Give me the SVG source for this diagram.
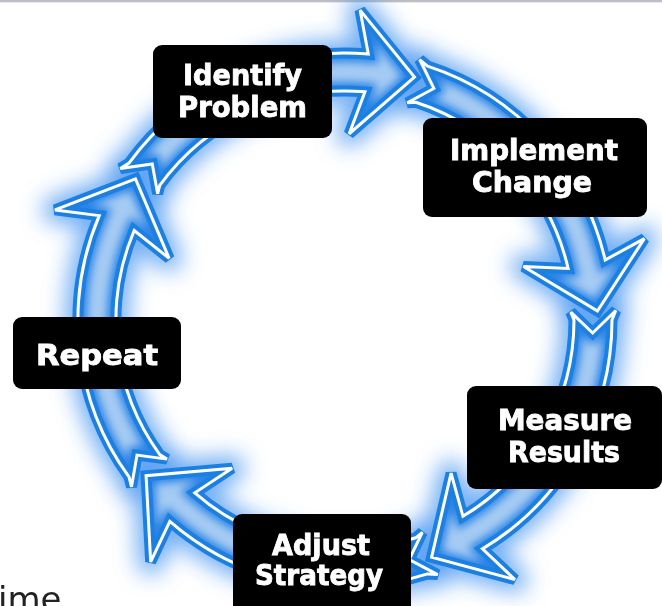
<svg xmlns="http://www.w3.org/2000/svg" width="662" height="606" viewBox="0 0 662 606">
<style>
.glow{fill:#5a9ff0;stroke:#3a8ef0;stroke-width:26;stroke-linejoin:round;opacity:.7}
.fillA{fill:#a6cbf3}
.inner{fill:none;stroke:#2a84e6;stroke-width:18}
.edge{fill:none;stroke:#1c7fe2;stroke-width:11;stroke-linejoin:miter}
.hl{fill:none;stroke:#ffffff;stroke-width:3;stroke-linejoin:miter}
.box{fill:#000000}
.lbl{font-family:"DejaVu Sans",sans-serif;font-weight:700;font-size:29px;fill:#ffffff;stroke:#ffffff;stroke-width:0.9;text-anchor:middle}
.txt{font-family:"DejaVu Sans",sans-serif;font-size:34px;fill:#222222}
</style>
<defs>
<filter id="gblur" x="-40%" y="-40%" width="180%" height="180%"><feGaussianBlur stdDeviation="11"/></filter>
<filter id="iblur" x="-20%" y="-20%" width="140%" height="140%"><feGaussianBlur stdDeviation="4"/></filter>
<path id="arr" d="M83.7,-257.7 L91.3,-250.9 A267,267 0 0 1 262.1,-50.9 L302.0,-70.9 L252.6,-0.2 L180.2,-47.3 L224.8,-43.7 A229,229 0 0 0 78.3,-215.2 L69.8,-214.9 L96.9,-228.3 Z"/>
<clipPath id="clipA"><use href="#arr"/></clipPath>
<g id="arrowBody">
<use href="#arr" class="fillA"/>
<g clip-path="url(#clipA)"><use href="#arr" class="inner" filter="url(#iblur)"/></g>
<use href="#arr" class="edge"/>
<use href="#arr" class="hl"/>
</g>
</defs>
<rect x="0" y="0" width="662" height="2.3" fill="#bdbdc5"/>
<g id="connectors">
<g id="glows" filter="url(#gblur)">
<use href="#arr" class="glow" transform="translate(345 320) rotate(-74)"/>
<use href="#arr" class="glow" transform="translate(345 320) rotate(-2)"/>
<use href="#arr" class="glow" transform="translate(345 320) rotate(70)"/>
<use href="#arr" class="glow" transform="translate(345 320) rotate(142)"/>
<use href="#arr" class="glow" transform="translate(345 320) rotate(214)"/>
</g>
<use id="arrow-identify-implement" href="#arrowBody" transform="translate(345 320) rotate(-74)"/>
<use id="arrow-implement-measure" href="#arrowBody" transform="translate(345 320) rotate(-2)"/>
<use id="arrow-measure-adjust" href="#arrowBody" transform="translate(345 320) rotate(70)"/>
<use id="arrow-adjust-repeat" href="#arrowBody" transform="translate(345 320) rotate(142)"/>
<use id="arrow-repeat-identify" href="#arrowBody" transform="translate(345 320) rotate(214)"/>
</g>
<g id="node-identify">
<rect class="box" x="153" y="45" width="179" height="93" rx="9"/>
<text class="lbl" x="242.5" y="85" textLength="119" lengthAdjust="spacingAndGlyphs">Identify</text>
<text class="lbl" x="242.5" y="117" textLength="129" lengthAdjust="spacingAndGlyphs">Problem</text>
</g>
<g id="node-implement">
<rect class="box" x="423" y="118" width="224" height="99" rx="9"/>
<text class="lbl" x="534" y="160" textLength="168" lengthAdjust="spacingAndGlyphs">Implement</text>
<text class="lbl" x="532" y="192" textLength="120" lengthAdjust="spacingAndGlyphs">Change</text>
</g>
<g id="node-measure">
<rect class="box" x="467" y="386" width="195" height="103" rx="9"/>
<text class="lbl" x="565" y="430" textLength="134" lengthAdjust="spacingAndGlyphs">Measure</text>
<text class="lbl" x="564" y="462" textLength="112" lengthAdjust="spacingAndGlyphs">Results</text>
</g>
<g id="node-adjust">
<rect class="box" x="233" y="514" width="178" height="106" rx="9"/>
<text class="lbl" x="321" y="555" textLength="98" lengthAdjust="spacingAndGlyphs">Adjust</text>
<text class="lbl" x="319" y="585" textLength="128" lengthAdjust="spacingAndGlyphs">Strategy</text>
</g>
<g id="node-repeat">
<rect class="box" x="13" y="317" width="168" height="72" rx="9"/>
<text class="lbl" x="97" y="365" textLength="122" lengthAdjust="spacingAndGlyphs">Repeat</text>
</g>
<text class="txt" x="-2" y="611">ime</text>
</svg>
